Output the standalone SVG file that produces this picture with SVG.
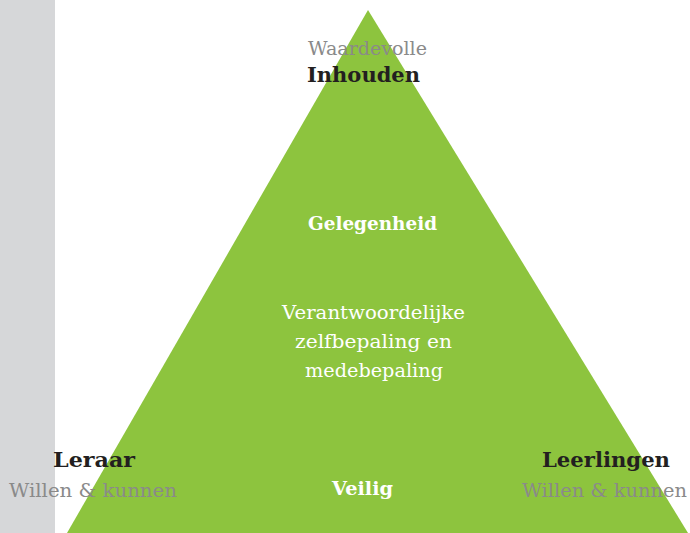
<svg xmlns="http://www.w3.org/2000/svg" width="690" height="533" viewBox="0 0 690 533">
  <style>
    .light { font-family: "DejaVu Serif", "Liberation Serif", serif; font-size: 19px; fill: #8a8a8a; }
    .bold { font-family: "DejaVu Serif", "Liberation Serif", serif; font-weight: bold; font-size: 20px; fill: #231f20; }
    .wbold { font-family: "DejaVu Serif", "Liberation Serif", serif; font-weight: bold; font-size: 18px; fill: #ffffff; }
    .wlight { font-family: "DejaVu Serif", "Liberation Serif", serif; font-size: 19px; fill: #ffffff; }
  </style>
  <rect x="0" y="0" width="690" height="533" fill="#ffffff"/>
  <rect id="sideband" x="0" y="0" width="55" height="533" fill="#d6d7d9"/>
  <polygon id="triangle" points="368,10 67,533 688,533" fill="#8dc43e"/>

  <g id="inhouden">
    <text class="light" x="308" y="55" textLength="119" lengthAdjust="spacingAndGlyphs">Waardevolle</text>
    <text class="bold" x="307" y="82" textLength="113" lengthAdjust="spacingAndGlyphs">Inhouden</text>
  </g>
  <g id="leraar">
    <text class="bold" x="53" y="467" textLength="82" lengthAdjust="spacingAndGlyphs">Leraar</text>
    <text class="light" x="9" y="497" textLength="168" lengthAdjust="spacingAndGlyphs">Willen &amp; kunnen</text>
  </g>
  <g id="leerlingen">
    <text class="bold" x="542" y="467" textLength="128" lengthAdjust="spacingAndGlyphs">Leerlingen</text>
    <text class="light" x="522" y="497" textLength="165" lengthAdjust="spacingAndGlyphs">Willen &amp; kunnen</text>
  </g>
  <g id="gelegenheid">
    <text class="wbold" x="308" y="230" textLength="129" lengthAdjust="spacingAndGlyphs">Gelegenheid</text>
  </g>
  <g id="zelfbepaling">
    <text class="wlight" x="282" y="319" textLength="183" lengthAdjust="spacingAndGlyphs">Verantwoordelijke</text>
    <text class="wlight" x="295" y="348" textLength="157" lengthAdjust="spacingAndGlyphs">zelfbepaling en</text>
    <text class="wlight" x="305" y="377" textLength="138" lengthAdjust="spacingAndGlyphs">medebepaling</text>
  </g>
  <g id="veilig">
    <text class="wbold" x="332" y="495" textLength="61" lengthAdjust="spacingAndGlyphs">Veilig</text>
  </g>
  <g id="connectors"></g>
</svg>
